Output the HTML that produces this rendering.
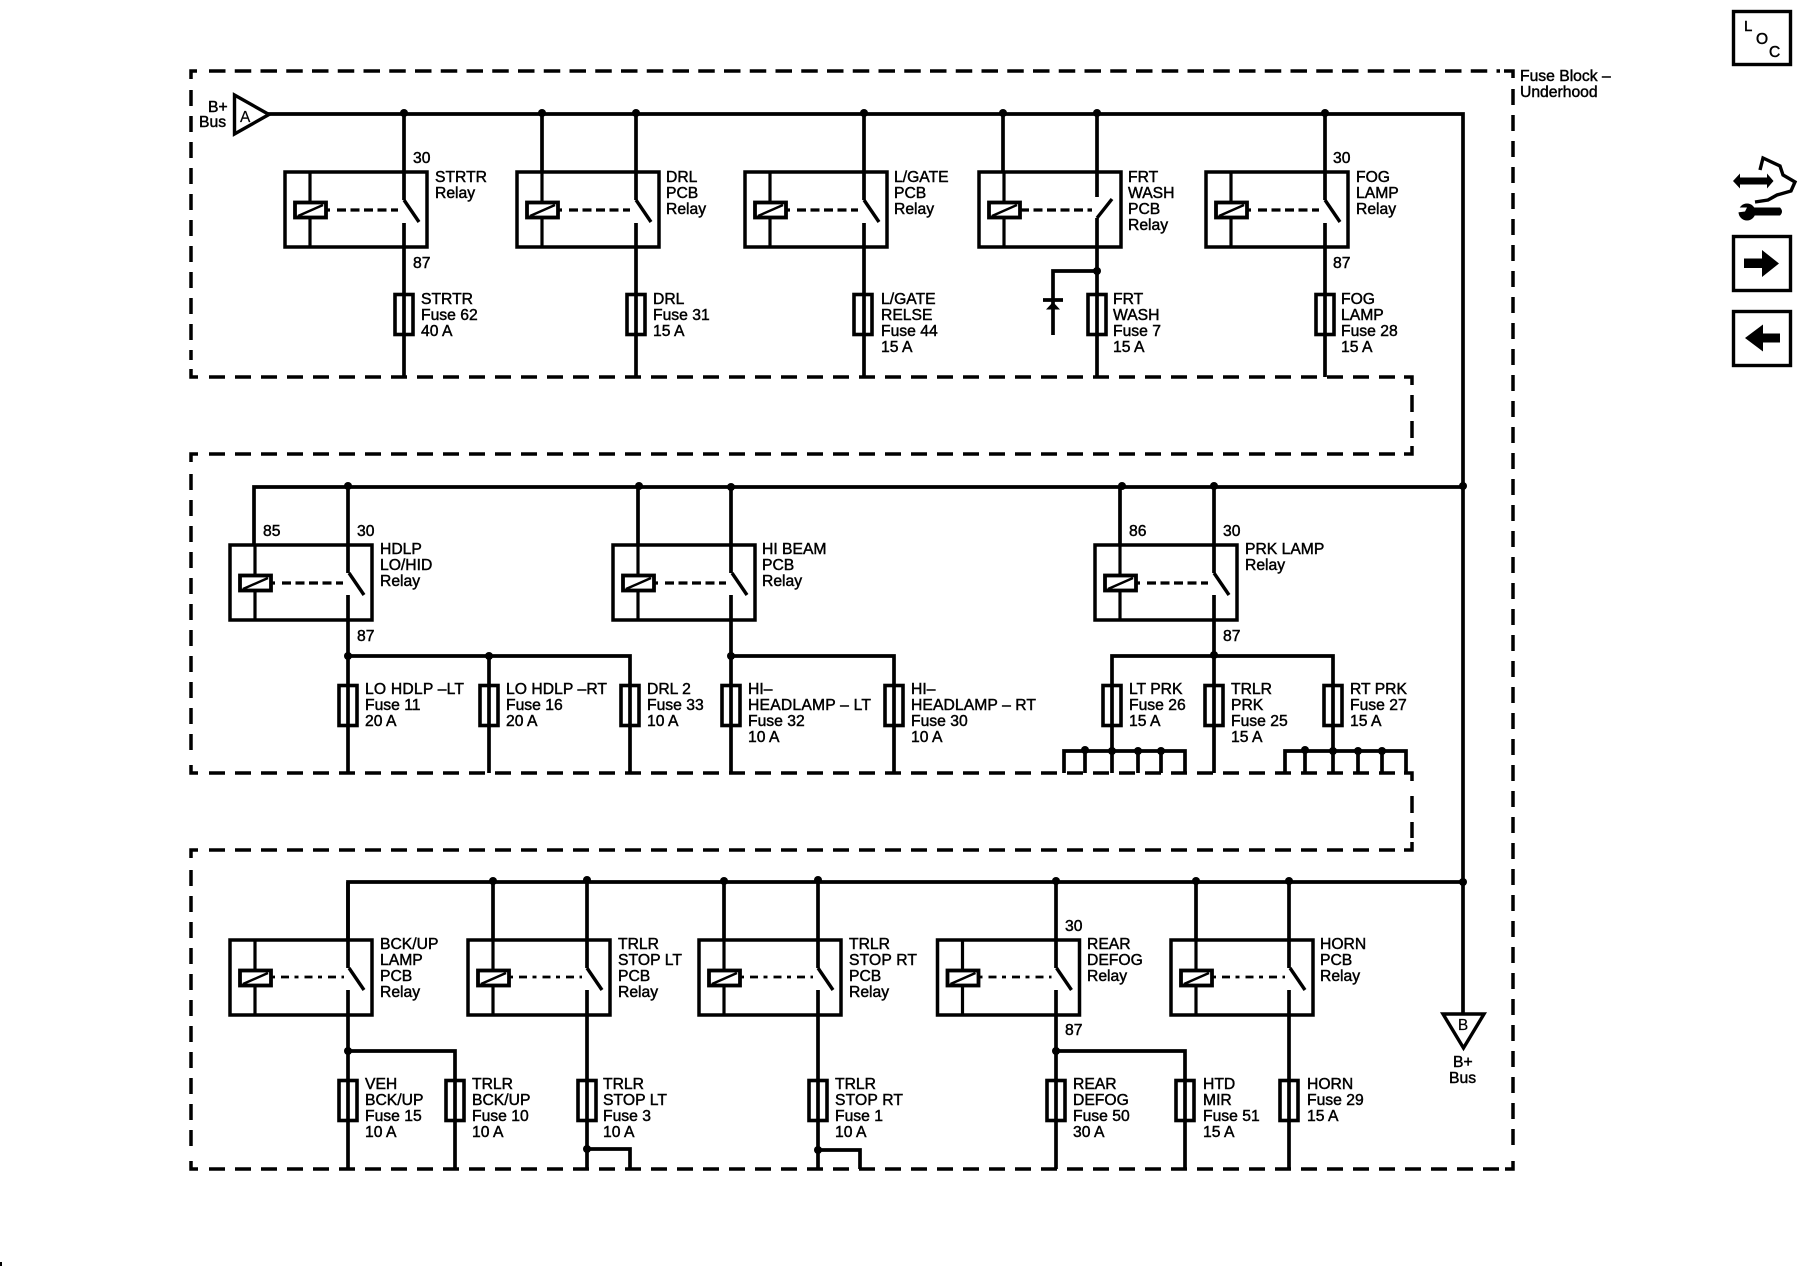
<!DOCTYPE html>
<html><head><meta charset="utf-8"><title>Fuse Block - Underhood</title>
<style>
html,body{margin:0;padding:0;background:#fff;width:1800px;height:1280px;overflow:hidden}
svg{display:block}
text{font-family:"Liberation Sans",sans-serif;font-size:15.7px;fill:#000;stroke:#000;stroke-width:.45px}
.w{fill:none;stroke:#000;stroke-width:3.7}
.d{fill:none;stroke:#000;stroke-width:3.5}
.b{fill:none;stroke:#000;stroke-width:3.5}
</style></head><body>
<svg width="1800" height="1280" viewBox="0 0 1800 1280" xmlns="http://www.w3.org/2000/svg">
<defs>
<g id="r">
<rect x="0" y="0" width="142" height="75" class="b"/>
<path d="M25 0V75" class="w" style="stroke-width:3.2"/>
<rect x="10" y="30.5" width="31" height="15" fill="#fff" stroke="#000" stroke-width="3.8"/>
<path d="M13 44L38 33" stroke="#000" stroke-width="2.4" fill="none"/>
</g>
<g id="a1"><path d="M41 38H113" stroke="#000" stroke-width="3.2" stroke-dasharray="4 7 9 4.5 9 4.5 9 4.5 9 4.5 9 4.5 9 4.5"/><path d="M119 28L134 50" stroke="#000" stroke-width="3.4" fill="none"/></g>
<g id="a2"><path d="M41 37H114" stroke="#000" stroke-width="2.7" stroke-dasharray="4 6 8 5.5"/><path d="M119 28L134 50" stroke="#000" stroke-width="3.4" fill="none"/></g>
<rect id="f" x="-9" y="0" width="18" height="40" fill="none" stroke="#000" stroke-width="3.6"/>
<circle id="o" r="4" cx="0" cy="0" fill="#000"/>
</defs>

<!-- dashed outlines -->
<g class="d">
<path d="M209 71H1500" stroke-dasharray="16.5 9.25"/>
<path d="M191 79V71H197M1504 71H1513V78M1513 1161V1169H1505M191 1161V1169H198M191 369V377H198M191 462V454H198M191 765V773H198M191 858V850H198M1404 377H1412V385M1404 454H1412V446M1404 773H1412V781M1404 850H1412V842" />
<path d="M191 90V360" stroke-dasharray="16 10"/>
<path d="M209 377H1400" stroke-dasharray="16 10"/>
<path d="M209 454H1400" stroke-dasharray="16 10"/>
<path d="M1412 395V440" stroke-dasharray="17 9"/>
<path d="M191 474V760" stroke-dasharray="16 10"/>
<path d="M209 773H1400" stroke-dasharray="16 10"/>
<path d="M209 850H1400" stroke-dasharray="16 10"/>
<path d="M1412 796V838" stroke-dasharray="17 9"/>
<path d="M191 870V1150" stroke-dasharray="16 10"/>
<path d="M209 1169H1500" stroke-dasharray="16 10"/>
<path d="M1513 89V1155" stroke-dasharray="16 10"/>
</g>

<!-- buses -->
<g class="w">
<path d="M268 114H1463V1013"/>
<path d="M254 545V487H1463"/>
<path d="M348 940V882H1463"/>
<path d="M234.500 95V134L269 114.500Z" style="stroke-width:3.4"/>
<path d="M1443 1014H1484L1463.500 1048Z" style="stroke-width:3.4"/>
</g>

<!-- row 1 wires -->
<g class="w">
<path d="M404 114V200M404 223V377"/>
<path d="M542 114V172M636 114V200M636 223V377"/>
<path d="M864 114V200M864 223V377"/>
<path d="M1003 114V172M1097 114V197M1097 218V377"/>
<path d="M1325 114V200M1325 223V377"/>
<path d="M1097 271H1053V335"/>
<path d="M1043 300H1063" />
</g>
<path d="M1053 302L1046 309.500H1060Z" fill="#000"/>
<!-- row 2 wires -->
<g class="w">
<path d="M348 487V573M348 595V773"/>
<path d="M348 656H630V773M489 656V773"/>
<path d="M638 487V545M731 487V573M731 595V773"/>
<path d="M731 656H894V773"/>
<path d="M1120 487V545M1214 487V573M1214 595V773"/>
<path d="M1112 773V656H1333V773"/>
<path d="M1064 773V751H1185V773M1085 751V773M1138 751V773M1161 751V773"/>
<path d="M1285 773V751H1406V773M1305 751V773M1358 751V773M1382 751V773"/>
</g>
<!-- row 3 wires -->
<g class="w">
<path d="M348 882V968M348 990V1169"/>
<path d="M348 1051H455V1169"/>
<path d="M493 882V940M587 882V968M587 990V1169"/>
<path d="M587 1149H630V1169"/>
<path d="M724 882V940M818 882V968M818 990V1169"/>
<path d="M818 1150H860V1169"/>
<path d="M1056 882V968M1056 990V1169"/>
<path d="M1056 1051H1185V1169"/>
<path d="M1196 882V940M1289 882V968M1289 990V1169"/>
</g>

<!-- relays -->
<use href="#r" x="285" y="172"/><use href="#a1" x="285" y="172"/>
<use href="#r" x="517" y="172"/><use href="#a1" x="517" y="172"/>
<use href="#r" x="745" y="172"/><use href="#a1" x="745" y="172"/>
<use href="#r" x="979" y="172"/>
<path d="M1020 210H1092" stroke="#000" stroke-width="3.2" stroke-dasharray="9 4.500"/>
<path d="M1097 218L1112 199" stroke="#000" stroke-width="3.4" fill="none"/>
<use href="#r" x="1206" y="172"/><use href="#a1" x="1206" y="172"/>

<use href="#r" x="230" y="545"/><use href="#a1" x="230" y="545"/>
<use href="#r" x="613" y="545"/><use href="#a1" x="613" y="545"/>
<use href="#r" x="1095" y="545"/><use href="#a1" x="1095" y="545"/>

<use href="#r" x="230" y="940"/><use href="#a2" x="230" y="940"/>
<use href="#r" x="468" y="940"/><use href="#a2" x="468" y="940"/>
<use href="#r" x="699" y="940"/><use href="#a2" x="699" y="940"/>
<use href="#r" x="937.500" y="940"/><use href="#a2" x="937.500" y="940"/>
<use href="#r" x="1171" y="940"/><use href="#a2" x="1171" y="940"/>

<!-- fuses -->
<use href="#f" x="404" y="294.500"/><use href="#f" x="636" y="294.500"/><use href="#f" x="863" y="294.500"/><use href="#f" x="1097" y="294.500"/><use href="#f" x="1325" y="294.500"/>
<use href="#f" x="348" y="685.500"/><use href="#f" x="489" y="685.500"/><use href="#f" x="630" y="685.500"/><use href="#f" x="731" y="685.500"/><use href="#f" x="894" y="685.500"/><use href="#f" x="1112" y="685.500"/><use href="#f" x="1214" y="685.500"/><use href="#f" x="1333" y="685.500"/>
<use href="#f" x="348" y="1080.500"/><use href="#f" x="455" y="1080.500"/><use href="#f" x="587" y="1080.500"/><use href="#f" x="818" y="1080.500"/><use href="#f" x="1056" y="1080.500"/><use href="#f" x="1185" y="1080.500"/><use href="#f" x="1289" y="1080.500"/>

<!-- dots -->
<g>
<use href="#o" x="404" y="113"/><use href="#o" x="542" y="113"/><use href="#o" x="636" y="113"/><use href="#o" x="864" y="113"/><use href="#o" x="1003" y="113"/><use href="#o" x="1097" y="113"/><use href="#o" x="1325" y="113"/>
<use href="#o" x="1097" y="271"/>
<use href="#o" x="1463" y="486"/><use href="#o" x="348" y="486"/><use href="#o" x="639" y="486"/><use href="#o" x="731" y="487"/><use href="#o" x="1122" y="486"/><use href="#o" x="1214" y="486"/>
<use href="#o" x="348" y="656"/><use href="#o" x="489" y="656"/><use href="#o" x="731" y="656"/><use href="#o" x="1214" y="655"/>
<use href="#o" x="1085" y="750"/><use href="#o" x="1112" y="751"/><use href="#o" x="1138" y="751"/><use href="#o" x="1161" y="751"/>
<use href="#o" x="1305" y="750"/><use href="#o" x="1333" y="751"/><use href="#o" x="1358" y="751"/><use href="#o" x="1382" y="751"/>
<use href="#o" x="493" y="881"/><use href="#o" x="587" y="880"/><use href="#o" x="724" y="881"/><use href="#o" x="818" y="880"/><use href="#o" x="1056" y="881"/><use href="#o" x="1196" y="881"/><use href="#o" x="1289" y="881"/><use href="#o" x="1463" y="882"/>
<use href="#o" x="348" y="1051"/><use href="#o" x="1056" y="1051"/><use href="#o" x="587" y="1149"/><use href="#o" x="818" y="1150"/>
</g>

<!-- labels -->
<text x="208" y="112">B+</text><text x="199" y="127">Bus</text>
<text x="240" y="122" style="font-size:15.5px;stroke-width:.2">A</text>
<text x="1520" y="81">Fuse Block –</text><text x="1520" y="97">Underhood</text>

<text x="413" y="163">30</text><text x="413" y="268">87</text>
<text x="435" y="182">STRTR</text><text x="435" y="198">Relay</text>
<text x="421" y="304">STRTR</text><text x="421" y="320">Fuse 62</text><text x="421" y="336">40 A</text>

<text x="666" y="182">DRL</text><text x="666" y="198">PCB</text><text x="666" y="214">Relay</text>
<text x="653" y="304">DRL</text><text x="653" y="320">Fuse 31</text><text x="653" y="336">15 A</text>

<text x="894" y="182">L/GATE</text><text x="894" y="198">PCB</text><text x="894" y="214">Relay</text>
<text x="881" y="304">L/GATE</text><text x="881" y="320">RELSE</text><text x="881" y="336">Fuse 44</text><text x="881" y="352">15 A</text>

<text x="1128" y="182">FRT</text><text x="1128" y="198">WASH</text><text x="1128" y="214">PCB</text><text x="1128" y="230">Relay</text>
<text x="1113" y="304">FRT</text><text x="1113" y="320">WASH</text><text x="1113" y="336">Fuse 7</text><text x="1113" y="352">15 A</text>

<text x="1333" y="163">30</text><text x="1333" y="268">87</text>
<text x="1356" y="182">FOG</text><text x="1356" y="198">LAMP</text><text x="1356" y="214">Relay</text>
<text x="1341" y="304">FOG</text><text x="1341" y="320">LAMP</text><text x="1341" y="336">Fuse 28</text><text x="1341" y="352">15 A</text>

<text x="263" y="536">85</text><text x="357" y="536">30</text><text x="357" y="641">87</text>
<text x="380" y="554">HDLP</text><text x="380" y="570">LO/HID</text><text x="380" y="586">Relay</text>
<text x="365" y="694" textLength="99" lengthAdjust="spacing">LO HDLP –LT</text><text x="365" y="710">Fuse 11</text><text x="365" y="726">20 A</text>
<text x="506" y="694" textLength="101" lengthAdjust="spacing">LO HDLP –RT</text><text x="506" y="710">Fuse 16</text><text x="506" y="726">20 A</text>
<text x="647" y="694">DRL 2</text><text x="647" y="710">Fuse 33</text><text x="647" y="726">10 A</text>

<text x="762" y="554">HI BEAM</text><text x="762" y="570">PCB</text><text x="762" y="586">Relay</text>
<text x="748" y="694">HI–</text><text x="748" y="710" textLength="123" lengthAdjust="spacing">HEADLAMP – LT</text><text x="748" y="726">Fuse 32</text><text x="748" y="742">10 A</text>
<text x="911" y="694">HI–</text><text x="911" y="710" textLength="125" lengthAdjust="spacing">HEADLAMP – RT</text><text x="911" y="726">Fuse 30</text><text x="911" y="742">10 A</text>

<text x="1129" y="536">86</text><text x="1223" y="536">30</text><text x="1223" y="641">87</text>
<text x="1245" y="554">PRK LAMP</text><text x="1245" y="570">Relay</text>
<text x="1129" y="694">LT PRK</text><text x="1129" y="710">Fuse 26</text><text x="1129" y="726">15 A</text>
<text x="1231" y="694">TRLR</text><text x="1231" y="710">PRK</text><text x="1231" y="726">Fuse 25</text><text x="1231" y="742">15 A</text>
<text x="1350" y="694">RT PRK</text><text x="1350" y="710">Fuse 27</text><text x="1350" y="726">15 A</text>

<text x="380" y="949">BCK/UP</text><text x="380" y="965">LAMP</text><text x="380" y="981">PCB</text><text x="380" y="997">Relay</text>
<text x="365" y="1089">VEH</text><text x="365" y="1105">BCK/UP</text><text x="365" y="1121">Fuse 15</text><text x="365" y="1137">10 A</text>
<text x="472" y="1089">TRLR</text><text x="472" y="1105">BCK/UP</text><text x="472" y="1121">Fuse 10</text><text x="472" y="1137">10 A</text>

<text x="618" y="949">TRLR</text><text x="618" y="965" textLength="64" lengthAdjust="spacing">STOP LT</text><text x="618" y="981">PCB</text><text x="618" y="997">Relay</text>
<text x="603" y="1089">TRLR</text><text x="603" y="1105" textLength="64" lengthAdjust="spacing">STOP LT</text><text x="603" y="1121">Fuse 3</text><text x="603" y="1137">10 A</text>

<text x="849" y="949">TRLR</text><text x="849" y="965" textLength="68" lengthAdjust="spacing">STOP RT</text><text x="849" y="981">PCB</text><text x="849" y="997">Relay</text>
<text x="835" y="1089">TRLR</text><text x="835" y="1105" textLength="68" lengthAdjust="spacing">STOP RT</text><text x="835" y="1121">Fuse 1</text><text x="835" y="1137">10 A</text>

<text x="1065" y="931">30</text><text x="1065" y="1035">87</text>
<text x="1087" y="949">REAR</text><text x="1087" y="965">DEFOG</text><text x="1087" y="981">Relay</text>
<text x="1073" y="1089">REAR</text><text x="1073" y="1105">DEFOG</text><text x="1073" y="1121">Fuse 50</text><text x="1073" y="1137">30 A</text>
<text x="1203" y="1089">HTD</text><text x="1203" y="1105">MIR</text><text x="1203" y="1121">Fuse 51</text><text x="1203" y="1137">15 A</text>

<text x="1320" y="949">HORN</text><text x="1320" y="965">PCB</text><text x="1320" y="981">Relay</text>
<text x="1307" y="1089">HORN</text><text x="1307" y="1105">Fuse 29</text><text x="1307" y="1121">15 A</text>

<text x="1463" y="1030" text-anchor="middle" style="font-size:15.5px;stroke-width:.2">B</text>
<text x="1453" y="1067">B+</text><text x="1449" y="1083">Bus</text>

<!-- side icons -->
<rect x="1733.500" y="11.500" width="57" height="53" fill="none" stroke="#000" stroke-width="3.400"/>
<text x="1744" y="31" style="font-size:15px;stroke-width:.4">L</text>
<text x="1756" y="44" style="font-size:15.5px;stroke-width:.5">O</text>
<text x="1769" y="57" style="font-size:15.5px;stroke-width:.5">C</text>

<path d="M1760 170L1763 158L1780 166L1783 175L1795 182L1791 191L1777 195L1768 200L1755 202" fill="none" stroke="#000" stroke-width="3.400"/>
<path d="M1733 181L1740 173.500V177.500H1767V173.500L1773.500 181L1767 188.500V184.500H1740V188.500Z" fill="#000"/>
<circle cx="1747" cy="212" r="8.500" fill="#000"/>
<path d="M1752 207.500H1780Q1784 211.500 1780 215.500H1752Z" fill="#000"/>
<path d="M1737 207.500H1747L1745 211.500L1737 212.500Z" fill="#fff"/>

<rect x="1733.500" y="236.500" width="57" height="54" fill="none" stroke="#000" stroke-width="3.400"/>
<path d="M1744 258.500H1762V250L1779 263.500L1762 277V268H1744Z" fill="#000"/>
<rect x="1733.500" y="311.500" width="57" height="54" fill="none" stroke="#000" stroke-width="3.400"/>
<path d="M1780 333.500H1763V324.500L1745 338L1763 351.500V342.500H1780Z" fill="#000"/>

<rect x="0" y="1262" width="2" height="4" fill="#000"/>
</svg>
</body></html>
